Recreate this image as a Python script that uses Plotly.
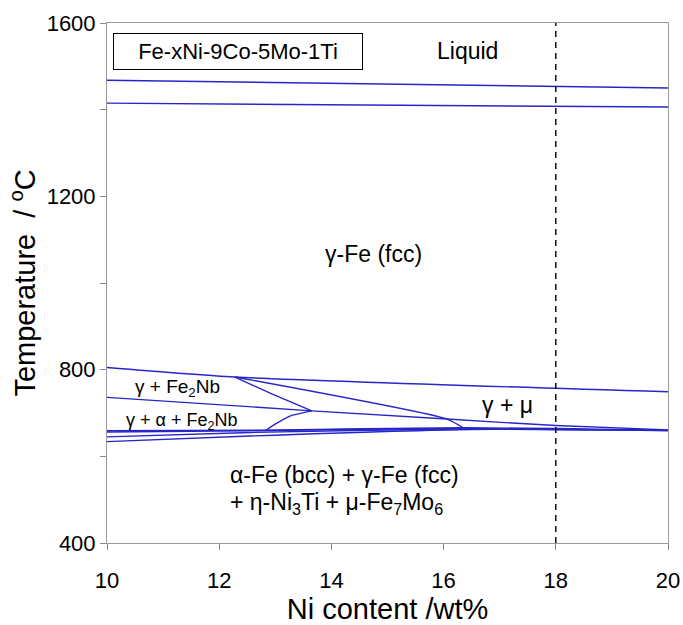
import plotly.graph_objects as go

# ---- data (Ni wt%, temperature degC) ----
liquidus_ni = [10, 20]
liquidus_t = [1468, 1450]
solidus_ni = [10, 20]
solidus_t = [1415, 1406]
gamma_upper_ni = [10, 12.28, 20]
gamma_upper_t = [805, 783, 749]
fe2nb_solvus_ni = [12.28, 12.96, 13.65]
fe2nb_solvus_t = [783, 743, 705]
mu_diag_ni = [12.28, 16.06, 16.35]
mu_diag_t = [783, 686, 666]
fe2nb_lower_ni = [10, 13.65]
fe2nb_lower_t = [736, 705]
mu_lower_ni = [13.65, 16.06, 18, 20]
mu_lower_t = [705, 686, 671, 661]
alpha_curve_ni = [12.82, 13.02, 13.26, 13.65]
alpha_curve_t = [659, 676, 693, 705]
bottom_a_ni = [10, 12.82, 16.35, 20]
bottom_a_t = [659, 660.5, 666, 660]
bottom_a2_ni = [10, 12.5, 16.0, 20]
bottom_a2_t = [656, 659, 664, 660]
bottom_b_ni = [10, 12.55, 16.2, 20]
bottom_b_t = [645, 655, 663, 660]
bottom_c_ni = [10, 12.55, 16.5, 20]
bottom_c_t = [634, 647, 662, 659]
marker_ni = [18, 18]
marker_t = [400, 1600]

x_ticks = [10, 12, 14, 16, 18, 20]
y_ticks = [400, 600, 800, 1000, 1200, 1400, 1600]
y_ticktext = ["400", "", "800", "", "1200", "", "1600"]

boundaries = [
    (liquidus_ni, liquidus_t), (solidus_ni, solidus_t),
    (gamma_upper_ni, gamma_upper_t), (fe2nb_solvus_ni, fe2nb_solvus_t),
    (mu_diag_ni, mu_diag_t), (fe2nb_lower_ni, fe2nb_lower_t),
    (mu_lower_ni, mu_lower_t), (alpha_curve_ni, alpha_curve_t),
    (bottom_a_ni, bottom_a_t), (bottom_a2_ni, bottom_a2_t),
    (bottom_b_ni, bottom_b_t), (bottom_c_ni, bottom_c_t),
]

FONT = "Liberation Sans, Arial, sans-serif"
BLUE = "#2626c8"

fig = go.Figure()
for xs, ys in boundaries:
    fig.add_trace(go.Scatter(x=xs, y=ys, mode="lines",
                             line=dict(color=BLUE, width=1.4, shape="spline", smoothing=0.6),
                             showlegend=False, hoverinfo="skip"))
fig.add_trace(go.Scatter(x=marker_ni, y=marker_t, mode="lines",
                         line=dict(color="black", width=1.4, dash="6px,5px"),
                         showlegend=False, hoverinfo="skip"))

labels = [
    (16.42, 1535, "Liquid", 23, "center"),
    (14.75, 1067, "γ-Fe (fcc)", 23, "center"),
    (11.25, 758, "γ + Fe<sub>2</sub>Nb", 19, "center"),
    (11.33, 680, "γ + α + Fe<sub>2</sub>Nb", 18, "center"),
    (17.14, 719, "γ + μ", 23, "center"),
]
for x, y, t, s, a in labels:
    fig.add_annotation(x=x, y=y, text=t, showarrow=False, xanchor=a, yanchor="middle",
                       font=dict(size=s, color="black", family=FONT))

fig.add_annotation(x=12.16, y=557, text="α-Fe (bcc) + γ-Fe (fcc)", showarrow=False,
                   xanchor="left", yanchor="middle", font=dict(size=23, color="black", family=FONT))
fig.add_annotation(x=12.16, y=492, text="+ η-Ni<sub>3</sub>Ti + μ-Fe<sub>7</sub>Mo<sub>6</sub>", showarrow=False,
                   xanchor="left", yanchor="middle", font=dict(size=23, color="black", family=FONT))

fig.add_annotation(x=10.11, y=1535, text="Fe-xNi-9Co-5Mo-1Ti", showarrow=False,
                   xanchor="left", yanchor="middle", width=246, height=33,
                   bordercolor="black", borderwidth=1, borderpad=1, bgcolor="white",
                   font=dict(size=22, color="black", family=FONT))

fig.update_layout(
    width=683, height=625,
    margin=dict(l=107, r=15, t=23, b=82),
    paper_bgcolor="white", plot_bgcolor="white",
    font=dict(family=FONT, color="black"),
    xaxis=dict(range=[10, 20], tickvals=x_ticks, ticks="outside", ticklen=6,
               tickcolor="#888", showgrid=False, zeroline=False, automargin=False,
               showline=True, linecolor="#999", mirror=True, linewidth=1,
               tickfont=dict(size=22), ticklabelstandoff=12, ticklabeloverflow="allow",
               title=dict(text="Ni content /wt%", font=dict(size=29), standoff=6)),
    yaxis=dict(range=[400, 1600], tickvals=y_ticks, ticktext=y_ticktext,
               ticks="outside", ticklen=6, tickcolor="#888", showgrid=False, zeroline=False,
               showline=True, linecolor="#999", mirror=True, linewidth=1, automargin=False,
               tickfont=dict(size=22),
               title=dict(text="Temperature  / <sup>o</sup>C", font=dict(size=29), standoff=2)),
)

# remove the default page margin so the figure fills the 683x625 window exactly
fig.write_html("out.html", config={"displayModeBar": False},
               post_script="document.body.style.margin='0';document.body.style.overflow='hidden';")
